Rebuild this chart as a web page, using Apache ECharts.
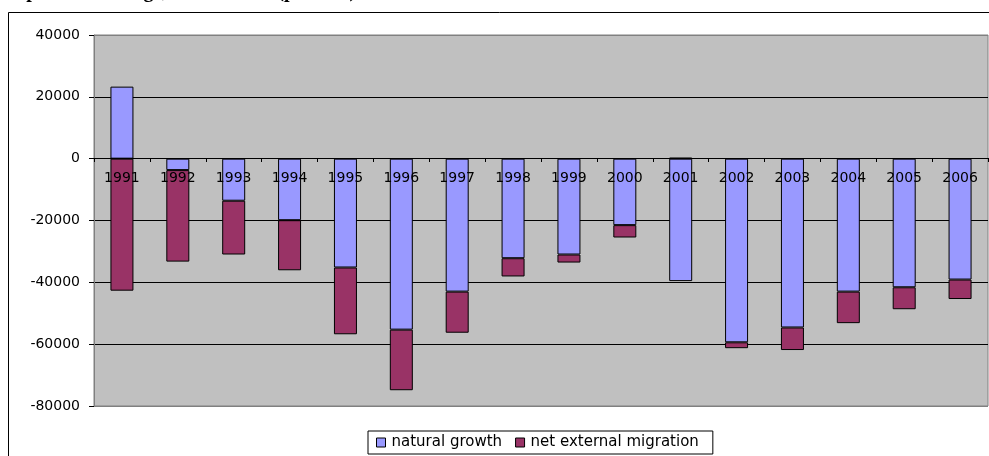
<!DOCTYPE html>
<html><head><meta charset="utf-8">
<script src="https://cdn.jsdelivr.net/npm/echarts@6/dist/echarts.min.js"></script>
<style>html,body{margin:0;padding:0;background:#fff}#c{width:989px;height:456px}</style>
</head><body><div id="c"></div>
<script>
const years = ['1991','1992','1993','1994','1995','1996','1997','1998','1999','2000','2001','2002','2003','2004','2005','2006'];
const naturalGrowth = [23300, -3700, -13600, -19900, -35200, -55300, -43000, -32200, -31000, -21500, -39600, -59400, -54600, -43000, -41600, -39100];
const netMigration = [-42700, -29600, -17400, -16200, -21600, -19600, -13300, -5900, -2600, -4000, 300, -1900, -7300, -10200, -7100, -6300];
const yTicks = [-80000, -60000, -40000, -20000, 0, 20000, 40000];

const chart = echarts.init(document.getElementById('c'));
const font = 'DejaVu Sans, Verdana, sans-serif';
chart.setOption({
  animation: false,
  graphic: [
    {type: 'rect', shape: {x: 8.5, y: 12.5, width: 1200, height: 600}, style: {fill: 'none', stroke: '#000', lineWidth: 1}, z: 0},
    {type: 'text', left: 4, top: -18, style: {text: 'Population change, 1991 – 2006 (persons)', font: 'bold 20px Liberation Serif, Times New Roman, serif', fill: '#000'}, z: 10}
  ],
  grid: {left: 94, right: 1, top: 35, bottom: 50, show: true, backgroundColor: '#C0C0C0', borderColor: '#808080', borderWidth: 1},
  legend: {
    left: 368, top: 431, height: 14,
    padding: [4, 14, 4, 8],
    borderColor: '#000', borderWidth: 1, backgroundColor: '#fff',
    itemWidth: 9, itemHeight: 9, itemGap: 13,
    icon: 'rect',
    itemStyle: {borderColor: '#000', borderWidth: 1},
    textStyle: {fontFamily: font, fontSize: 15, color: '#000', padding: [0, 0, 0, 1]},
    data: ['natural growth', 'net external migration']
  },
  xAxis: {
    type: 'category', data: years, z: 5,
    position: 'bottom', offset: -248,
    axisLine: {onZero: false, lineStyle: {color: '#000', width: 1}},
    axisTick: {show: true, length: 4, lineStyle: {color: '#000'}},
    axisLabel: {interval: 0, margin: 13, fontFamily: font, fontSize: 14, color: '#000'},
    splitLine: {show: false}
  },
  yAxis: {
    type: 'value', min: yTicks[0], max: yTicks[yTicks.length - 1], interval: 20000,
    axisLine: {show: true, lineStyle: {color: '#808080'}},
    axisTick: {show: true, length: 5, lineStyle: {color: '#000'}},
    axisLabel: {margin: 14, fontFamily: font, fontSize: 14, color: '#000', formatter: v => String(v)},
    splitLine: {show: true, lineStyle: {color: ['#808080', '#000', '#000', '#000', '#000', '#000', '#808080'], width: 1}}
  },
  series: [
    {name: 'natural growth', type: 'bar', stack: 's', data: naturalGrowth, barWidth: 23,
     itemStyle: {color: '#9999FF', borderColor: '#000', borderWidth: 1}},
    {name: 'net external migration', type: 'bar', stack: 's', data: netMigration, barWidth: 23,
     itemStyle: {color: '#993366', borderColor: '#000', borderWidth: 1}}
  ]
});
</script></body></html>
